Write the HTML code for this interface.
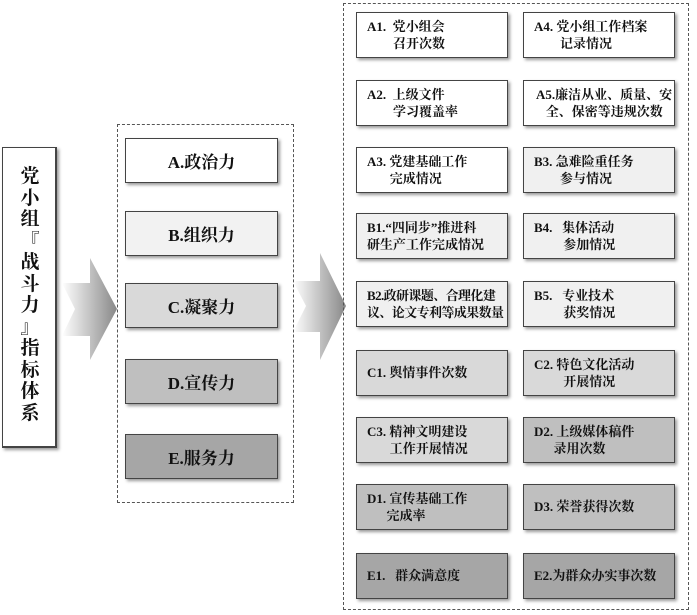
<!DOCTYPE html><html><head><meta charset="utf-8"><style>
body{margin:0;width:697px;height:615px;background:#fff;position:relative;overflow:hidden;font-family:"Liberation Serif","Noto Serif CJK SC",serif;font-weight:bold;color:#111}
.b{position:absolute;border:1px solid #444;box-shadow:2px 2px 3px #999;box-sizing:border-box}
.d{position:absolute;border:1px dashed #555;box-sizing:border-box}
.m{display:flex;align-items:center;justify-content:center;font-size:17px}
.s{font-size:13px;line-height:17px;padding:5px 0 0 10px;white-space:nowrap}
</style></head><body>
<div class="b" style="left:2px;top:147px;width:55px;height:301px;border-width:1px 2px 2px 1px"></div>
<div style="position:absolute;left:14px;top:166px;width:32px;font-size:19px;line-height:21.5px;text-align:center">党<br>小<br>组<br>『<br>战<br>斗<br>力<br>』<br>指<br>标<br>体<br>系</div>
<svg style="position:absolute;left:0;top:0" width="697" height="615">
<defs><linearGradient id="g" x1="0" x2="1"><stop offset="0" stop-color="#fff"/><stop offset="1" stop-color="#888"/></linearGradient></defs>
<polygon points="62,283 90,283 90,258 117,309 90,360 90,336 62,336 75,309" fill="url(#g)"/>
<polygon points="293,281 320,281 320,253 346,306 320,360 320,332 293,332 306,306" fill="url(#g)"/>
</svg>
<div class="d" style="left:117px;top:124px;width:177px;height:379px"></div>
<div class="b m" style="left:125px;top:138px;width:153px;height:45px;background:#fff">A.政治力</div>
<div class="b m" style="left:125px;top:211px;width:153px;height:45px;background:#f2f2f2">B.组织力</div>
<div class="b m" style="left:125px;top:283px;width:153px;height:45px;background:#d9d9d9">C.凝聚力</div>
<div class="b m" style="left:125px;top:359px;width:153px;height:45px;background:#bfbfbf">D.宣传力</div>
<div class="b m" style="left:125px;top:434px;width:153px;height:45px;background:#a6a6a6">E.服务力</div>
<div class="d" style="left:343px;top:3px;width:346px;height:607px"></div>
<div class="b s" style="left:356px;top:12px;width:152px;height:46px;background:#fff">A1.&nbsp; 党小组会<br>&nbsp;&nbsp;&nbsp;&nbsp;&nbsp;&nbsp;&nbsp; 召开次数</div>
<div class="b s" style="left:523px;top:12px;width:152px;height:46px;background:#fff">A4. 党小组工作档案<br>&nbsp;&nbsp;&nbsp;&nbsp;&nbsp;&nbsp;&nbsp; 记录情况</div>
<div class="b s" style="left:356px;top:80px;width:152px;height:46px;background:#fff">A2.&nbsp; 上级文件<br>&nbsp;&nbsp;&nbsp;&nbsp;&nbsp;&nbsp;&nbsp; 学习覆盖率</div>
<div class="b s" style="left:523px;top:80px;width:152px;height:46px;background:#fff;padding-left:12px">A5.廉洁从业、质量、安<br>&nbsp;&nbsp; 全、保密等违规次数</div>
<div class="b s" style="left:356px;top:147px;width:152px;height:46px;background:#fff">A3. 党建基础工作<br>&nbsp;&nbsp;&nbsp;&nbsp;&nbsp;&nbsp; 完成情况</div>
<div class="b s" style="left:523px;top:147px;width:152px;height:46px;background:#f0f0f0">B3. 急难险重任务<br>&nbsp;&nbsp;&nbsp;&nbsp;&nbsp;&nbsp;&nbsp; 参与情况</div>
<div class="b s" style="left:356px;top:213px;width:152px;height:46px;background:#f0f0f0">B1.“四同步”推进科<br>研生产工作完成情况</div>
<div class="b s" style="left:523px;top:213px;width:152px;height:46px;background:#f0f0f0">B4.&nbsp;&nbsp; 集体活动<br>&nbsp;&nbsp;&nbsp;&nbsp;&nbsp;&nbsp;&nbsp;&nbsp; 参加情况</div>
<div class="b s" style="left:356px;top:281px;width:152px;height:46px;background:#f0f0f0;letter-spacing:-0.6px">B2.政研课题、合理化建<br>议、论文专利等成果数量</div>
<div class="b s" style="left:523px;top:281px;width:152px;height:46px;background:#f0f0f0">B5.&nbsp;&nbsp; 专业技术<br>&nbsp;&nbsp;&nbsp;&nbsp;&nbsp;&nbsp;&nbsp;&nbsp; 获奖情况</div>
<div class="b s" style="left:356px;top:350px;width:152px;height:46px;background:#d9d9d9;padding-top:13px">C1. 舆情事件次数</div>
<div class="b s" style="left:523px;top:350px;width:152px;height:46px;background:#d9d9d9">C2. 特色文化活动<br>&nbsp;&nbsp;&nbsp;&nbsp;&nbsp;&nbsp;&nbsp;&nbsp; 开展情况</div>
<div class="b s" style="left:356px;top:417px;width:152px;height:46px;background:#d9d9d9">C3. 精神文明建设<br>&nbsp;&nbsp;&nbsp;&nbsp;&nbsp;&nbsp; 工作开展情况</div>
<div class="b s" style="left:523px;top:417px;width:152px;height:46px;background:#bfbfbf">D2. 上级媒体稿件<br>&nbsp;&nbsp;&nbsp;&nbsp;&nbsp; 录用次数</div>
<div class="b s" style="left:356px;top:484px;width:152px;height:46px;background:#bfbfbf">D1. 宣传基础工作<br>&nbsp;&nbsp;&nbsp;&nbsp;&nbsp; 完成率</div>
<div class="b s" style="left:523px;top:484px;width:152px;height:46px;background:#bfbfbf;padding-top:13px">D3. 荣誉获得次数</div>
<div class="b s" style="left:356px;top:553px;width:152px;height:46px;background:#a6a6a6;padding-top:13px">E1.&nbsp;&nbsp; 群众满意度</div>
<div class="b s" style="left:523px;top:553px;width:152px;height:46px;background:#a6a6a6;padding-top:13px">E2.为群众办实事次数</div>
</body></html>
